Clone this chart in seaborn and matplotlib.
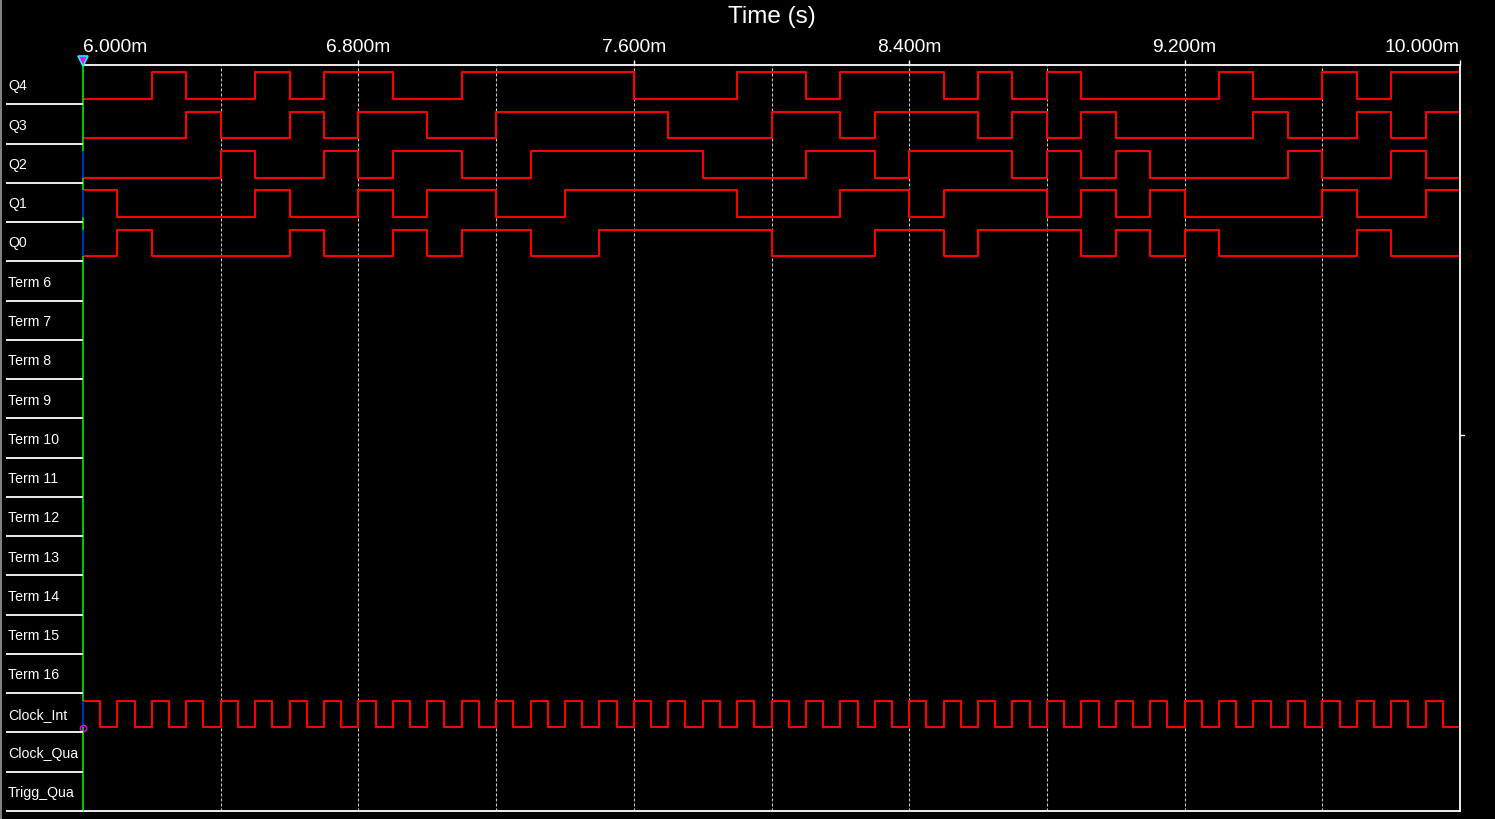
import numpy as np
import pandas as pd
import matplotlib
matplotlib.use('Agg')
import matplotlib.pyplot as plt
import seaborn as sns

sns.set_theme(style='dark', rc={'axes.facecolor': 'black', 'figure.facecolor': 'black',
                                'axes.grid': False, 'lines.scale_dashes': False})
plt.rcParams['font.family'] = ['Liberation Sans', 'DejaVu Sans']

# rows of the logic analyser, top to bottom
row_names = ['Q4', 'Q3', 'Q2', 'Q1', 'Q0',
             'Term 6', 'Term 7', 'Term 8', 'Term 9', 'Term 10', 'Term 11',
             'Term 12', 'Term 13', 'Term 14', 'Term 15', 'Term 16',
             'Clock_Int', 'Clock_Qua', 'Trigg_Qua']

# time axis in ms
t_start, t_end = 6.0, 10.0
tick_times = [6.0, 6.8, 7.6, 8.4, 9.2, 10.0]
tick_labels = ['6.000m', '6.800m', '7.600m', '8.400m', '9.200m', '10.000m']
grid_times = [6.4, 6.8, 7.2, 7.6, 8.0, 8.4, 8.8, 9.2, 9.6]

# logic levels, one bit per 0.1 ms step
q4_bits = '0010010110011111000110111010100001001011'
q3_bits = '0001001011001111100011011101010000100101'
q2_bits = '0000100101100111110001101110101000010010'
q1_bits = '1000010010110011111000110111010100001001'
q0_bits = '0100001001011001111100011011101010000100'
# clock, one bit per 0.05 ms half period
clock_bits = '10101010101010101010101010101010101010101010101010101010101010101010101010101010'

signals = {'Q4': (q4_bits, 0.1), 'Q3': (q3_bits, 0.1), 'Q2': (q2_bits, 0.1),
           'Q1': (q1_bits, 0.1), 'Q0': (q0_bits, 0.1), 'Clock_Int': (clock_bits, 0.05)}

HIGH, LOW = 0.19, 0.87   # level position inside a row (from top)

recs = []
for name, (bits, dt) in signals.items():
    i = row_names.index(name)
    vals = [int(b) for b in bits] + [int(bits[-1])]
    for k, v in enumerate(vals):
        recs.append({'signal': name, 't': t_start + k * dt, 'y': i + LOW - (LOW - HIGH) * v})
df = pd.DataFrame(recs)

W, H = 1495, 820
n = len(row_names)
fig = plt.figure(figsize=(W / 100, H / 100), dpi=100)
ax = fig.add_axes([83 / W, 1 - 812 / H, (1460 - 83) / W, (812 - 66) / H])
ax_lab = fig.add_axes([0, 1 - 812 / H, 83 / W, (812 - 66) / H])

sns.lineplot(data=df, x='t', y='y', units='signal', estimator=None, sort=False,
             drawstyle='steps-post', color='#ff0000', lw=1.5, ax=ax, legend=False)

ax.set_xlim(t_start, t_end)
ax.set_ylim(n, 0)
ax.set_yticks([])
ax.set_ylabel('')
for s in ['top', 'right', 'bottom']:
    ax.spines[s].set_color('white')
    ax.spines[s].set_linewidth(1.3)
    ax.spines[s].set_visible(True)
ax.spines['left'].set_visible(False)

ax.xaxis.tick_top()
ax.set_xticks(tick_times, tick_labels)
ax.tick_params(axis='x', top=True, bottom=False, labeltop=True, labelbottom=False,
               length=3.5, width=1, color='white', labelcolor='white', labelsize=13.9, pad=4)
labs = ax.get_xticklabels()
labs[0].set_ha('left')
labs[-1].set_ha('right')
ax.set_xlabel('Time (s)', color='white', fontsize=17.5)
ax.xaxis.set_label_position('top')
ax.xaxis.set_label_coords(0.5, 1.058)

for g in grid_times:
    ax.axvline(g, color='#c8c8c8', lw=0.8, ls=(0, (2.2, 1.4)), zorder=1)

# cursor line with blue parts
ax.axvline(t_start, color='#00ff00', lw=1.1, zorder=4, clip_on=False)
for name in ['Q2', 'Q1', 'Q0', 'Clock_Int']:
    i = row_names.index(name)
    ax.vlines(t_start, i + HIGH, i + LOW, color='#0000ff', lw=1.1, zorder=5, clip_on=False)
ax.plot(t_start, -0.1, marker='v', ms=7.5, color='#ff00ff', mec='#00ffff', mew=1.2,
        clip_on=False, zorder=6)
ax.plot(t_start, row_names.index('Clock_Int') + 0.88, marker='o', ms=4.5, mfc='none',
        mec='#ff00ff', mew=1, clip_on=False, zorder=6)
ax.plot([t_end, t_end + 0.012], [9.43, 9.43], color='white', lw=1, clip_on=False)

# label column
ax_lab.set_xlim(0, 83)
ax_lab.set_ylim(n, 0)
ax_lab.axis('off')
ax_lab.hlines(np.arange(1, n + 1), 6, 83, color='white', lw=1.3, clip_on=False)
ax_lab.axvline(1, ymin=-0.012, ymax=1.09, color='#808080', lw=1.5, clip_on=False)
for i, name in enumerate(row_names):
    ax_lab.text(8, i + 0.52, name, color='white', fontsize=10.2, va='center', ha='left')

fig.savefig('out.png', dpi=100, facecolor='black')
